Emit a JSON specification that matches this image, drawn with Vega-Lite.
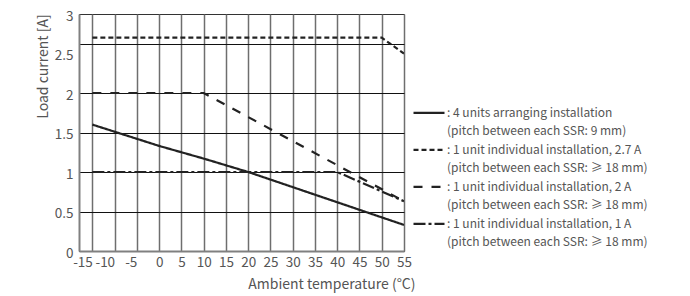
{
  "$schema": "https://vega.github.io/schema/vega-lite/v6.json",
  "autosize": {"type": "none"},
  "width": 325,
  "height": 237,
  "padding": {"left": 79, "top": 14, "right": 286, "bottom": 45},
  "config": {
    "font": "Noto Sans CJK SC",
    "view": {"stroke": "#333", "strokeWidth": 1},
    "style": {"guide-label": {"lineHeight": 17.5}}
  },
  "data": {
    "values": [
      {"series": "4 units arranging installation|(pitch between each SSR: 9 mm)", "t": -15, "i": 1.6},
      {"series": "4 units arranging installation|(pitch between each SSR: 9 mm)", "t": 0, "i": 1.33},
      {"series": "4 units arranging installation|(pitch between each SSR: 9 mm)", "t": 10, "i": 1.17},
      {"series": "4 units arranging installation|(pitch between each SSR: 9 mm)", "t": 20, "i": 1.0},
      {"series": "4 units arranging installation|(pitch between each SSR: 9 mm)", "t": 55, "i": 0.33},
      {"series": "1 unit individual installation, 2.7 A|(pitch between each SSR: ≥ 18 mm)", "t": -15, "i": 2.7},
      {"series": "1 unit individual installation, 2.7 A|(pitch between each SSR: ≥ 18 mm)", "t": 50, "i": 2.7},
      {"series": "1 unit individual installation, 2.7 A|(pitch between each SSR: ≥ 18 mm)", "t": 55, "i": 2.5},
      {"series": "1 unit individual installation, 2 A|(pitch between each SSR: ≥ 18 mm)", "t": -15, "i": 2.0},
      {"series": "1 unit individual installation, 2 A|(pitch between each SSR: ≥ 18 mm)", "t": 10, "i": 2.0},
      {"series": "1 unit individual installation, 2 A|(pitch between each SSR: ≥ 18 mm)", "t": 55, "i": 0.63},
      {"series": "1 unit individual installation, 1 A|(pitch between each SSR: ≥ 18 mm)", "t": -15, "i": 1.0},
      {"series": "1 unit individual installation, 1 A|(pitch between each SSR: ≥ 18 mm)", "t": 40, "i": 1.0},
      {"series": "1 unit individual installation, 1 A|(pitch between each SSR: ≥ 18 mm)", "t": 55, "i": 0.63}
    ]
  },
  "mark": {"type": "line", "color": "#222", "strokeWidth": 2.2, "clip": true},
  "encoding": {
    "x": {
      "field": "t",
      "type": "quantitative",
      "scale": {"domain": [-18, 55], "nice": false, "zero": false},
      "axis": {
        "values": [-15, -10, -5, 0, 5, 10, 15, 20, 25, 30, 35, 40, 45, 50, 55],
        "labelExpr": "datum.value < 0 ? '-' + abs(datum.value) : '' + datum.value",
        "title": "Ambient temperature (°C)",
        "titleFontSize": 14,
        "titleFontWeight": "normal",
        "titleColor": "#555",
        "titleX": 336,
        "titleY": 37,
        "titleAlign": "right",
        "titleBaseline": "alphabetic",
        "labelFontSize": 13.5,
        "labelColor": "#555",
        "labelFlush": false,
        "labelOverlap": false,
        "labelPadding": 4,
        "labelAlign": {"condition": {"test": "datum.value < 0", "value": "right"}, "value": "center"},
        "ticks": false,
        "tickSize": 0,
        "grid": true,
        "gridColor": "#6e6e6e",
        "gridWidth": 1.5,
        "gridOpacity": 1,
        "domainColor": "#808080",
        "domainWidth": 2
      }
    },
    "y": {
      "field": "i",
      "type": "quantitative",
      "scale": {"domain": [0, 3], "nice": false},
      "axis": {
        "values": [0, 0.5, 1, 1.5, 2, 2.5, 2.62, 3],
        "labelExpr": "datum.value == 2.62 ? '' : format(datum.value, '~g')",
        "title": "Load current [A]",
        "titleFontSize": 14,
        "titleFontWeight": "normal",
        "titleColor": "#555",
        "titleX": -36,
        "titleY": 52,
        "titleAlign": "center",
        "titleBaseline": "middle",
        "titleAngle": 270,
        "labelFontSize": 13.5,
        "labelColor": "#555",
        "labelPadding": 6,
        "labelOffset": 2,
        "labelFlush": false,
        "labelOverlap": false,
        "ticks": false,
        "tickSize": 0,
        "grid": true,
        "gridColor": "#111",
        "gridWidth": 1,
        "gridOpacity": {"condition": {"test": "datum.value == 2.5 || datum.value == 0 || datum.value == 3", "value": 0}, "value": 1},
        "domainColor": "#808080",
        "domainWidth": 2
      }
    },
    "strokeDash": {
      "field": "series",
      "type": "nominal",
      "scale": {
        "domain": [
          "4 units arranging installation|(pitch between each SSR: 9 mm)",
          "1 unit individual installation, 2.7 A|(pitch between each SSR: ≥ 18 mm)",
          "1 unit individual installation, 2 A|(pitch between each SSR: ≥ 18 mm)",
          "1 unit individual installation, 1 A|(pitch between each SSR: ≥ 18 mm)"
        ],
        "range": [[1, 0], [5, 3], [9, 9], [12, 3, 3, 3]]
      },
      "legend": {
        "orient": "none",
        "legendX": 333,
        "legendY": 86,
        "title": null,
        "padding": 0,
        "symbolType": "M-1,-0.26H1",
        "symbolSize": 961,
        "symbolStrokeWidth": 2.2,
        "symbolStrokeColor": "#222",
        "symbolFillColor": "transparent",
        "labelFontSize": 12,
        "labelColor": "#555",
        "labelBaseline": "alphabetic",
        "labelOffset": 1,
        "labelLimit": 400,
        "rowPadding": -2.2,
        "labelExpr": "[': ' + split(datum.label, '|')[0], '\u00a0\u00a0' + split(datum.label, '|')[1]]"
      }
    }
  }
}
